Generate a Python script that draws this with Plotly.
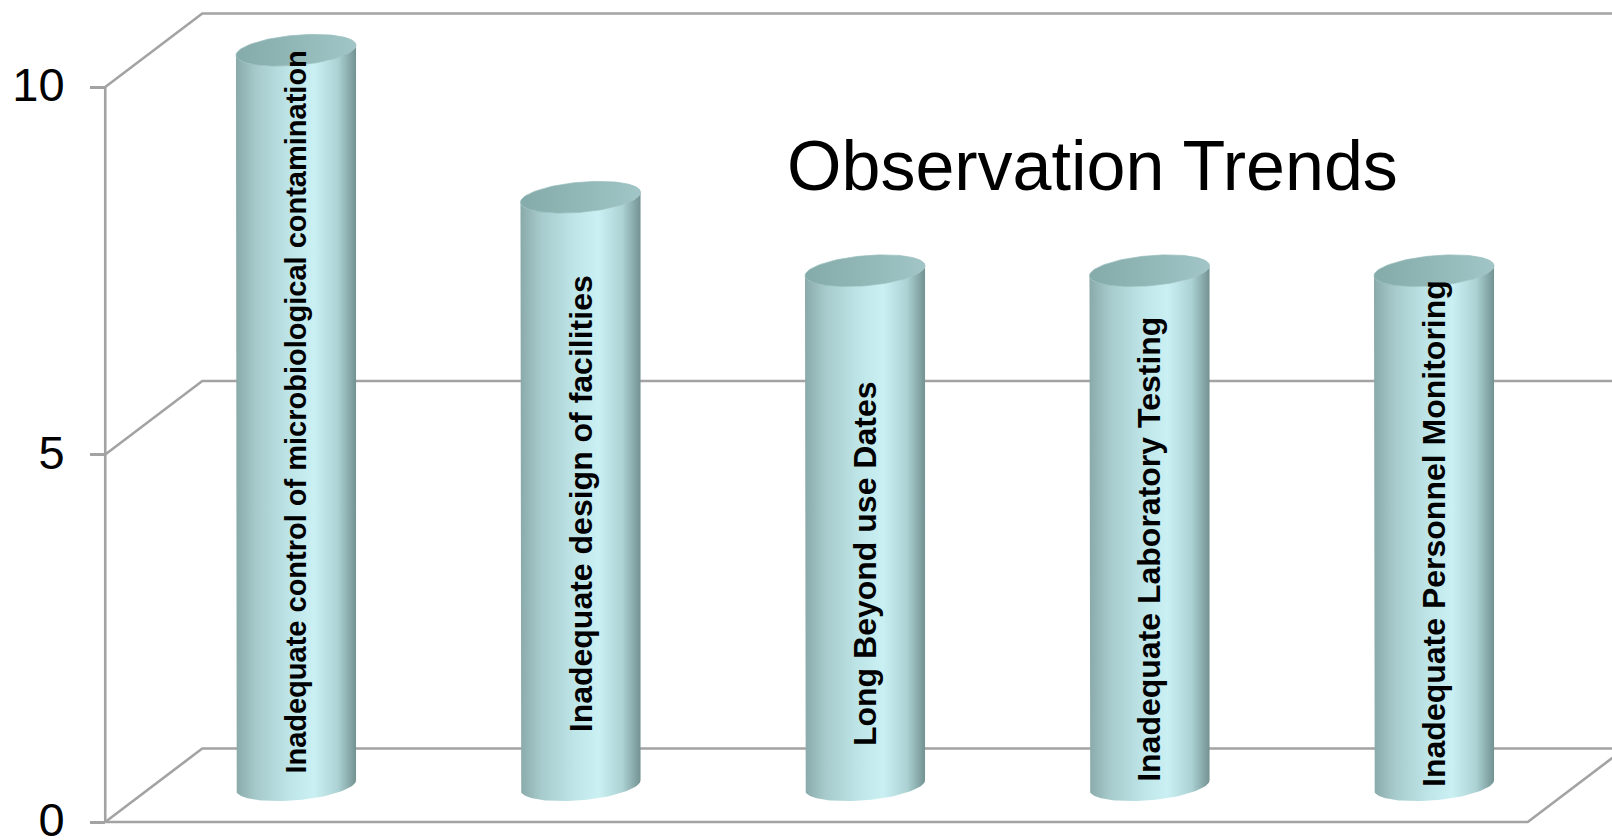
import numpy as np
import plotly.graph_objects as go

# ---------------- data ----------------
categories = [
    "Inadequate control of microbiological contamination",
    "Inadequate design of facilities",
    "Long Beyond use Dates",
    "Inadequate Laboratory Testing",
    "Inadequate Personnel Monitoring",
]
values = [10, 8, 7, 7, 7]
y_ticks = [0, 5, 10]
chart_title = "Observation Trends"

# ---------------- layout / style constants ----------------
W, H = 1612, 840
ML = 60                      # left margin (px)
X0_PX, X_SCALE = 247.5, 284.5   # px of category 0 (front plane), px per category
Y0_PX, Y_SCALE = 822.0, 73.5    # px of value 0 (front plane), px per unit
DX, DY = 0.341, 1.0          # depth offset of back wall, in data units
RX, RY, TILT = 0.211, 0.205, 0.068   # cylinder ellipse semi-axes and tilt (data units)
LINE_C = "#a3a3a3"
LINE_W = 2.6
label_sizes = [29, 32, 32, 32, 32]
label_mid = [5.07, 3.83, 3.01, 3.21, 3.42]   # label centre height above cylinder base

x_range = [(ML - X0_PX) / X_SCALE, (W - X0_PX) / X_SCALE]
y_range = [(Y0_PX - H) / Y_SCALE, Y0_PX / Y_SCALE]

fig = go.Figure()

def add_line(xs, ys):
    fig.add_trace(go.Scatter(x=xs, y=ys, mode="lines",
                             line=dict(color=LINE_C, width=LINE_W),
                             hoverinfo="skip", showlegend=False))

n = len(categories)
xl, xr = -0.5, n - 0.5
# front-left axis edge
add_line([xl, xl], [0, max(y_ticks)])
# side-wall diagonals and back-wall gridlines
for v in y_ticks:
    add_line([xl, xl + DX, xr + DX], [v, v + DY, v + DY])
# floor front edge and right floor edge
add_line([xl, xr, xr + DX], [0, 0, DY])

# ---------------- cylinders ----------------
body_scale = [[0.0, "rgb(138,170,170)"], [0.18, "rgb(168,204,205)"],
              [0.45, "rgb(190,229,232)"], [0.65, "rgb(202,240,243)"],
              [0.85, "rgb(172,210,212)"], [1.0, "rgb(115,146,146)"]]
top_scale = [[0.0, "rgb(133,170,170)"], [0.6, "rgb(148,186,186)"],
             [1.0, "rgb(162,198,199)"]]

t_full = np.linspace(0, 2 * np.pi, 121)
t_low = np.linspace(np.pi, 2 * np.pi, 61)

for i, v in enumerate(values):
    cx = i + DX / 2
    yb = DY / 2
    yt = v + DY / 2
    # body: left edge down, bottom front arc, right edge up, top front arc back
    bx = np.cos(t_low) * RX + cx
    by_b = yb + RY * np.sin(t_low) + TILT * np.cos(t_low)
    by_t = yt + RY * np.sin(t_low) + TILT * np.cos(t_low)
    xs = np.concatenate([[cx - RX], bx, bx[::-1]])
    ys = np.concatenate([[yt - TILT], by_b, by_t[::-1]])
    fig.add_trace(go.Scatter(x=xs, y=ys, mode="lines", fill="toself",
                             line=dict(width=0, color="rgba(0,0,0,0)"),
                             fillgradient=dict(type="horizontal", colorscale=body_scale),
                             hoverinfo="skip", showlegend=False))
    # top face
    tx = cx + RX * np.cos(t_full)
    ty = yt + RY * np.sin(t_full) + TILT * np.cos(t_full)
    fig.add_trace(go.Scatter(x=tx, y=ty, mode="lines", fill="toself",
                             line=dict(width=0.8, color="rgba(150,188,188,0.9)"),
                             fillgradient=dict(type="horizontal", colorscale=top_scale),
                             hoverinfo="skip", showlegend=False))
    # label
    fig.add_annotation(x=cx, y=yb + label_mid[i], text=categories[i], textangle=-90,
                       showarrow=False, xanchor="center", yanchor="middle",
                       font=dict(family="Liberation Sans, Arial", size=label_sizes[i],
                                 color="black", weight="bold"))

fig.add_annotation(x=(1092 - ML) / (W - ML), y=1 - 166 / H, xref="paper", yref="paper",
                   text=chart_title, showarrow=False, xanchor="center", yanchor="middle",
                   font=dict(family="Liberation Sans, Arial", size=70, color="black"))

fig.update_layout(
    width=W, height=H,
    margin=dict(l=ML, r=0, t=0, b=0, autoexpand=False),
    paper_bgcolor="white", plot_bgcolor="white",
    xaxis=dict(range=x_range, visible=False, fixedrange=True, automargin=False),
    yaxis=dict(range=y_range, tickvals=y_ticks, ticks="outside", ticklen=15,
               tickwidth=2.5, tickcolor=LINE_C, showgrid=False, zeroline=False,
               showline=False, anchor="free", position=(105 - ML) / (W - ML),
               ticklabelstandoff=16, ticklabeloverflow="allow", automargin=False,
               ticklabelshift=-2,
               tickfont=dict(family="Liberation Sans, Arial", size=47, color="black"),
               fixedrange=True),
)

fig.write_html("out.html")
